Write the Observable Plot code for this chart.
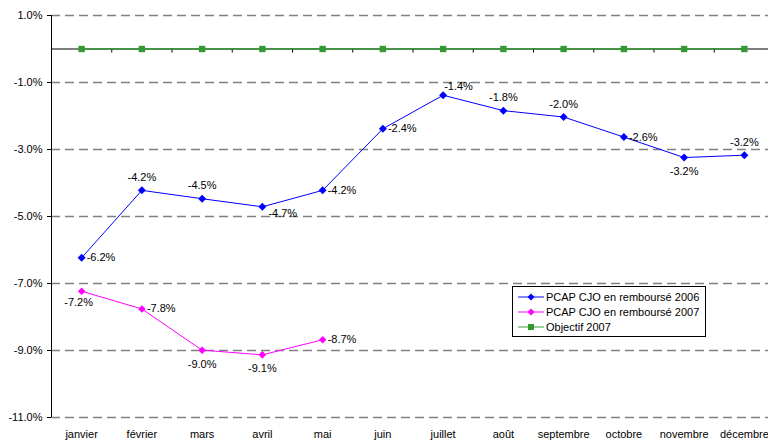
<!DOCTYPE html>
<html>
<head>
<meta charset="utf-8">
<script src="https://cdn.jsdelivr.net/npm/d3@7"></script>
<script src="https://cdn.jsdelivr.net/npm/@observablehq/plot@0.6"></script>
<style>
  body { margin: 0; background: white; font-family: "Liberation Sans", Arial, sans-serif; }
  #wrap { position: relative; width: 768px; height: 445px; }
  #legend { position: absolute; left: 512px; top: 286px; width: 192px; height: 47px;
    border: 1px solid black; background: white; font-size: 11px; padding-top: 2px; }
  #legend .row { height: 15px; display: flex; align-items: center; white-space: nowrap; }
  #legend svg { margin-left: 5px; margin-right: 2px; }
</style>
</head>
<body>
<div id="wrap"></div>
<script>
const months = ["janvier","février","mars","avril","mai","juin","juillet","août","septembre","octobre","novembre","décembre"];
const v2006 = [-6.23,-4.22,-4.47,-4.71,-4.22,-2.38,-1.38,-1.84,-2.03,-2.63,-3.24,-3.17];
const v2007 = [-7.23,-7.76,-8.99,-9.13,-8.68];
const objectif = [0,0,0,0,0,0,0,0,0,0,0,0];
const yTicks = [1,-1,-3,-5,-7,-9,-11];
// label placement codes (r = right, a = above, b = below, ar = above-right, br = below-right, bl = below-left)
const pos2006 = ["r","a","a","br","r","r","ar","a","a","r","b","a"];
const pos2007 = ["bl","r","b","b","r"];
const seriesNames = ["PCAP CJO en remboursé 2006","PCAP CJO en remboursé 2007","Objectif 2007"];
const colors = ["#0000ff","#ff00ff","#339933"];

const d06 = v2006.map((v,i)=>({i, v, p: pos2006[i]}));
const d07 = v2007.map((v,i)=>({i, v, p: pos2007[i]}));
const dObj = objectif.map((v,i)=>({i, v}));

const fmt = d => d.v.toFixed(1) + "%";
const placements = {
  r:  {dx: 5, dy: 0, textAnchor: "start"},
  a:  {dx: 0, dy: -13, textAnchor: "middle"},
  b:  {dx: 0, dy: 14, textAnchor: "middle"},
  ar: {dx: 1, dy: -9, textAnchor: "start"},
  br: {dx: 6, dy: 7, textAnchor: "start"},
  bl: {dx: -3, dy: 11, textAnchor: "middle"}
};
function labels(data) {
  return Object.entries(placements).map(([k, o]) =>
    Plot.text(data.filter(d => d.p === k), {x: "i", y: "v", text: fmt, fill: "black", fontSize: 11, ...o}));
}

const plot = Plot.plot({
  width: 768,
  height: 445,
  marginTop: 15,
  marginBottom: 28,
  marginLeft: 51,
  marginRight: 0,
  style: {fontFamily: '"Liberation Sans", Arial, sans-serif', fontSize: "11px", color: "black", background: "white"},
  x: {domain: [-0.5, 11.5], range: [51, 774]},
  y: {domain: [-11, 1]},
  marks: [
    Plot.ruleY(yTicks, {stroke: "#808080", strokeWidth: 1.5, strokeDasharray: "9,5"}),
    Plot.ruleY([0], {stroke: "black", strokeWidth: 1}),
    Plot.ruleX(months.slice(1).map((_, i) => i + 0.5), {y1: 0, y2: -0.12, stroke: "black"}),
    Plot.ruleX([-0.5], {y1: -11, y2: 1, stroke: "black"}),
    Plot.axisY(yTicks, {tickFormat: d => d.toFixed(1) + "%", tickSize: 4, tickPadding: 5, fill: "black", stroke: "black", label: null}),
    Plot.axisX(months.map((_, i) => i), {tickFormat: i => months[i], tickSize: 0, tickPadding: 13, fill: "black", label: null}),
    Plot.line(dObj, {x: "i", y: "v", stroke: colors[2], strokeWidth: 1.5}),
    Plot.dot(dObj, {x: "i", y: "v", symbol: "square", r: 3.6, fill: colors[2]}),
    Plot.line(d06, {x: "i", y: "v", stroke: colors[0], strokeWidth: 1}),
    Plot.dot(d06, {x: "i", y: "v", symbol: "diamond2", r: 3.6, fill: colors[0]}),
    Plot.line(d07, {x: "i", y: "v", stroke: colors[1], strokeWidth: 1}),
    Plot.dot(d07, {x: "i", y: "v", symbol: "diamond2", r: 3.4, fill: colors[1]}),
    ...labels(d06),
    ...labels(d07)
  ]
});

const wrap = document.getElementById("wrap");
wrap.appendChild(plot);

const legend = document.createElement("div");
legend.id = "legend";
const shapes = ["diamond","diamond","square"];
seriesNames.forEach((name, k) => {
  const row = document.createElement("div");
  row.className = "row";
  const c = colors[k];
  const marker = shapes[k] === "square"
    ? `<rect x="10" y="2" width="6" height="6" fill="${c}"/>`
    : `<path d="M13,1.5 L16.5,5 L13,8.5 L9.5,5 Z" fill="${c}"/>`;
  row.innerHTML = `<svg width="26" height="10"><line x1="0" y1="5" x2="26" y2="5" stroke="${c}" stroke-opacity="0.65" stroke-width="1.5"/>${marker}</svg><span>${name}</span>`;
  legend.appendChild(row);
});
wrap.appendChild(legend);
</script>
</body>
</html>
